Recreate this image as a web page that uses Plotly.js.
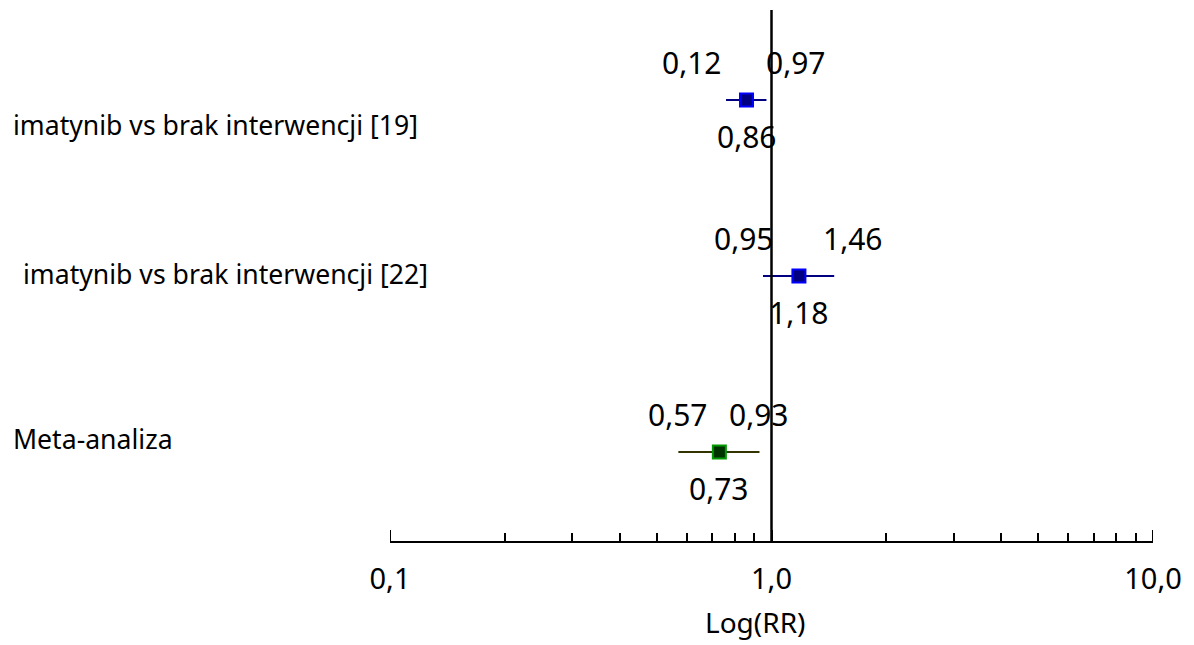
<!DOCTYPE html>
<html>
<head>
<meta charset="utf-8">
<script src="https://cdn.plot.ly/plotly-3.0.1.min.js"></script>
<style>html,body{margin:0;padding:0;background:#fff;}#chart{width:1194px;height:645px;}</style>
</head>
<body>
<div id="chart"></div>
<script>
// ---- data ----
var studies = ["imatynib vs brak interwencji [19]", "imatynib vs brak interwencji [22]", "Meta-analiza"];
var rowPos = [3, 2, 1];
var rr = [0.86, 1.18, 0.73];
var ciLow = [0.76, 0.95, 0.57];     // drawn lower bound (as in the picture)
var ciHigh = [0.97, 1.46, 0.93];
var labelRR = ["0,86", "1,18", "0,73"];
var labelLow = ["0,12", "0,95", "0,57"];
var labelHigh = ["0,97", "1,46", "0,93"];
var tickValues = [0.1, 1, 10];
var tickLabels = ["0,1", "1,0", "10,0"];
var minorTickValues = [0.2, 0.3, 0.4, 0.5, 0.6, 0.7, 0.8, 0.9, 2, 3, 4, 5, 6, 7, 8, 9];

// ---- styles ----
var FONT = "Noto Sans, DejaVu Sans, sans-serif";
var rowStyle = [
  {fill: "#000080", border: "#0000ff", line: "#000080"},
  {fill: "#000080", border: "#0000ff", line: "#000080"},
  {fill: "#003300", border: "#009900", line: "#333300"}
];
var lowShift = [-34, -19, 0];
var highShift = [30, 19, 0];
var studyIndent = [11, 21, 11];
var studyYShift = [-25, 2, 13];

var traces = [];
for (var i = 0; i < studies.length; i++) {
  traces.push({
    type: "scatter", mode: "markers",
    x: [rr[i]], y: [rowPos[i]],
    error_x: {type: "data", symmetric: false, array: [ciHigh[i] - rr[i]], arrayminus: [rr[i] - ciLow[i]],
              color: rowStyle[i].line, thickness: 2, width: 0},
    marker: {symbol: "square", size: 13, color: rowStyle[i].fill, line: {color: rowStyle[i].border, width: 2}},
    hoverinfo: "skip", showlegend: false
  });
}

var annotations = [];
for (var j = 0; j < studies.length; j++) {
  annotations.push({x: Math.log10(ciLow[j]), y: rowPos[j], xref: "x", yref: "y", text: labelLow[j], showarrow: false,
    xanchor: "center", yanchor: "middle", xshift: lowShift[j], yshift: 37, font: {family: FONT, size: 30, color: "#000"}});
  annotations.push({x: Math.log10(ciHigh[j]), y: rowPos[j], xref: "x", yref: "y", text: labelHigh[j], showarrow: false,
    xanchor: "center", yanchor: "middle", xshift: highShift[j], yshift: 37, font: {family: FONT, size: 30, color: "#000"}});
  annotations.push({x: Math.log10(rr[j]), y: rowPos[j], xref: "x", yref: "y", text: labelRR[j], showarrow: false,
    xanchor: "center", yanchor: "middle", yshift: -37, font: {family: FONT, size: 30, color: "#000"}});
  annotations.push({x: 0, y: rowPos[j], xref: "paper", yref: "y", text: studies[j], showarrow: false,
    xanchor: "left", yanchor: "middle", xshift: -390 + studyIndent[j], yshift: studyYShift[j],
    font: {family: FONT, size: 26.6, color: "#000"}});
}
annotations.push({x: 0.478, y: 0, xref: "paper", yref: "paper", text: "Log(RR)", showarrow: false,
  xanchor: "center", yanchor: "middle", yshift: -81, font: {family: FONT, size: 28, color: "#000"}});

// vertical reference line at RR = 1, plus the end ticks Plotly clips for inside ticks
var shapes = [{type: "line", xref: "x", yref: "paper", x0: 1, x1: 1, y0: 0, y1: 1, line: {color: "#000", width: 2.5}}];
[tickValues[0], tickValues[tickValues.length - 1]].forEach(function (v) {
  shapes.push({type: "line", xref: "x", yref: "paper", ysizemode: "pixel", yanchor: 0,
    x0: v, x1: v, y0: 0, y1: 11, line: {color: "#000", width: 2}});
});

var layout = {
  width: 1194, height: 645,
  margin: {l: 390, r: 41, t: 10, b: 104},
  paper_bgcolor: "#fff", plot_bgcolor: "#fff",
  showlegend: false,
  xaxis: {
    type: "log", range: [-1, 1], showgrid: false, zeroline: false,
    showline: true, linecolor: "#000", linewidth: 2,
    tickmode: "array", tickvals: tickValues, ticktext: tickLabels,
    ticks: "inside", ticklen: 11, tickwidth: 2, tickcolor: "#000",
    ticklabelstandoff: 11,
    minor: {tickmode: "array", tickvals: minorTickValues, ticks: "inside", ticklen: 8, tickwidth: 2, tickcolor: "#000", showgrid: false},
    tickfont: {family: FONT, size: 29, color: "#000"},
    fixedrange: true
  },
  yaxis: {
    range: [0.494, 3.511], showgrid: false, zeroline: false, showline: false,
    showticklabels: false, ticks: "", fixedrange: true
  },
  shapes: shapes,
  annotations: annotations
};

Plotly.newPlot("chart", traces, layout, {displayModeBar: false, staticPlot: true});
</script>
</body>
</html>
